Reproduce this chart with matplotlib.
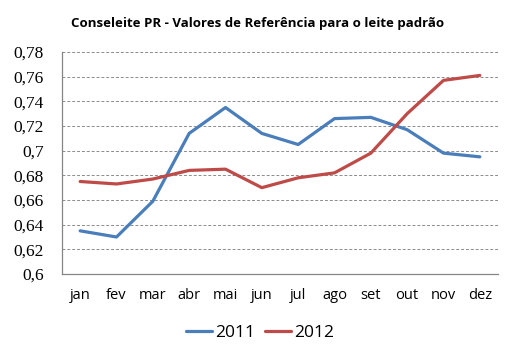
import matplotlib
matplotlib.use("Agg")
import matplotlib.pyplot as plt
import numpy as np

# dados
meses = ['jan', 'fev', 'mar', 'abr', 'mai', 'jun', 'jul', 'ago', 'set', 'out', 'nov', 'dez']
v2011 = [0.635, 0.630, 0.659, 0.714, 0.735, 0.714, 0.705, 0.726, 0.727, 0.717, 0.698, 0.695]
v2012 = [0.675, 0.673, 0.677, 0.684, 0.685, 0.670, 0.678, 0.682, 0.698, 0.730, 0.757, 0.761]
yticks = [0.6, 0.62, 0.64, 0.66, 0.68, 0.7, 0.72, 0.74, 0.76, 0.78]

fig = plt.figure(figsize=(5.15, 3.58), dpi=100)
ax = fig.add_axes([62/515, 84/358, 436/515, 222/358])

x = np.arange(len(meses))
ax.plot(x, v2011, color='#4A7EBB', lw=2.3, label='2011', solid_capstyle='round')
ax.plot(x, v2012, color='#BE4B48', lw=2.3, label='2012', solid_capstyle='round')

ax.set_xlim(-0.5, len(meses) - 0.5)
ax.set_ylim(0.6, 0.78)
ax.set_yticks(yticks)
ax.set_yticklabels([('%g' % t).replace('.', ',') for t in yticks],
                   family='Liberation Serif', fontsize=12.5)
ax.set_xticks(x)
ax.set_xticklabels(meses, family='Open Sans', fontsize=10.5)
ax.tick_params(axis='y', length=0, pad=13)
ax.tick_params(axis='x', length=0, pad=10)

ax.grid(axis='y', color='#8c8c8c', linestyle=(0, (3, 2)), lw=0.7)
ax.set_axisbelow(True)
for s in ['top', 'right']:
    ax.spines[s].set_visible(False)
for s in ['left', 'bottom']:
    ax.spines[s].set_color('#868686')
    ax.spines[s].set_linewidth(0.9)

fig.text(0.5, 1 - 24/358, 'Conseleite PR - Valores de Referência para o leite padrão',
         ha='center', va='center', family='Open Sans', fontweight='bold', fontsize=9.5)

fig.legend(loc='center', bbox_to_anchor=(0.505, 1 - 333/358), ncol=2, frameon=False,
           prop={'family': 'Open Sans', 'size': 12.5}, handlelength=1.5,
           handletextpad=0.15, columnspacing=0.6)

fig.savefig('out.png', dpi=100)
